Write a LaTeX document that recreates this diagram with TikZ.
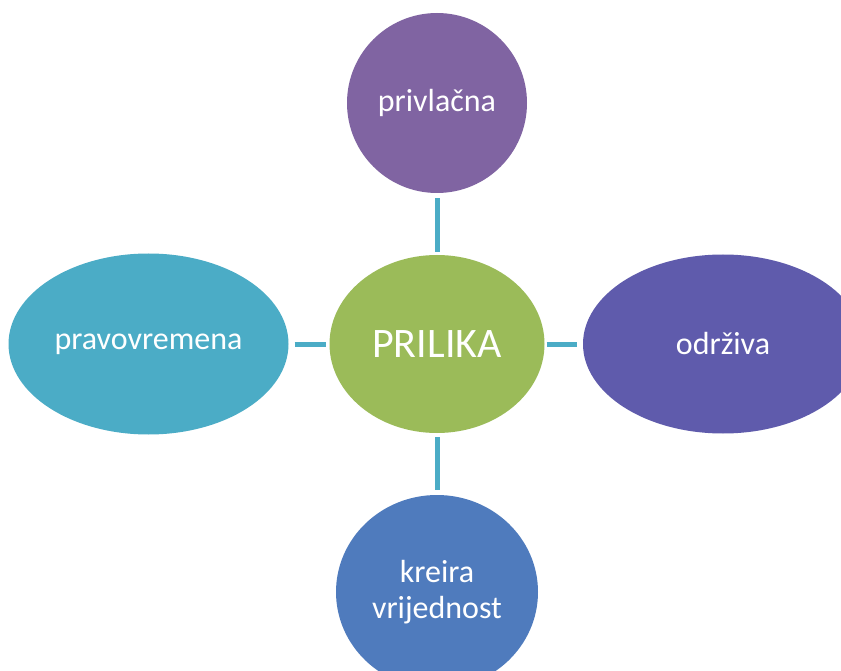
\documentclass[tikz,border=0pt]{standalone}
\usepackage{fontspec}
\setmainfont{Carlito}
\usetikzlibrary{shapes.geometric}
\definecolor{cpurple}{HTML}{8064A2}
\definecolor{cgreen}{HTML}{9BBB59}
\definecolor{cteal}{HTML}{4BACC6}
\definecolor{cviolet}{HTML}{5F5BAC}
\definecolor{cblue}{HTML}{4F7BBD}
\tikzset{
  blob/.style={ellipse, inner sep=0pt, text=white, font=\fontsize{32}{36}\selectfont, align=center},
  link/.style={draw=cteal, line width=5pt, line cap=butt}
}
\begin{document}
\begin{tikzpicture}[x=1pt,y=-1pt]
\useasboundingbox (0,0) rectangle (841,671);
\clip (0,0) rectangle (841,671);
\fill[white] (0,0) rectangle (841,671);
\node[blob, fill=cpurple, minimum width=180pt, minimum height=180pt] (top) at (437,103) {privla\v{c}na};
\node[blob, fill=cgreen, minimum width=215pt, minimum height=178pt, font=\fontsize{42}{48}\selectfont] (mid) at (437,344) {PRILIKA};
\node[blob, fill=cteal, minimum width=280pt, minimum height=181pt] (left) at (148.5,344) {pravovremena};
\node[blob, fill=cviolet, minimum width=280pt, minimum height=179pt] (right) at (723,344) {odr\v{z}iva};
\node[blob, fill=cblue, minimum width=202pt, minimum height=194pt] (bot) at (437,592) {kreira\\vrijednost};
\draw[link, shorten <=5pt, shorten >=3pt] (top.south) -- (mid.north);
\draw[link, shorten <=6pt, shorten >=3pt] (left.east) -- (mid.west);
\draw[link, shorten <=2pt, shorten >=6pt] (mid.east) -- (right.west);
\draw[link, shorten <=4pt, shorten >=5pt] (mid.south) -- (bot.north);
\end{tikzpicture}
\end{document}
